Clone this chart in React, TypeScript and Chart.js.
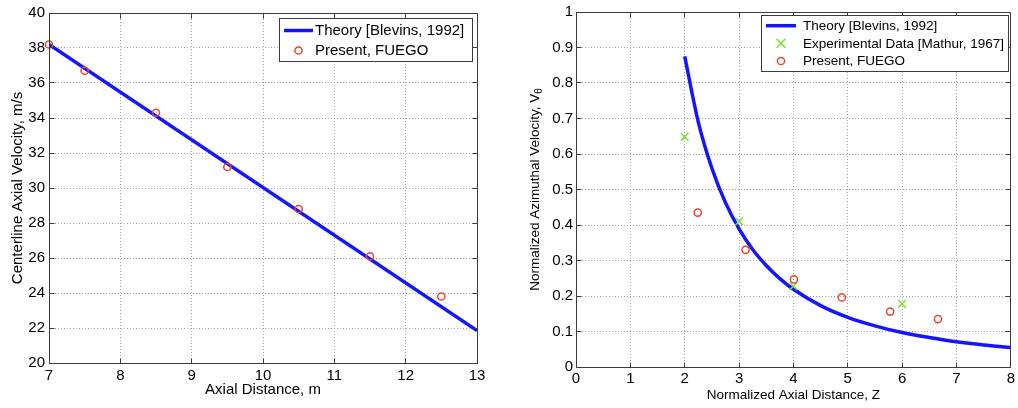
import React, { useEffect, useRef } from 'react';
import { Chart, registerables } from 'chart.js';

Chart.register(...registerables);

const FONT = '"Liberation Sans", Arial, Helvetica, sans-serif';
const BLUE = '#1414ff';
const RED = '#e6472b';
const GREEN = '#7ee03c';
const GRID = '#a8a8a8';
const FRAME = '#3c3c3c';

// ---- Left chart: centerline axial velocity ----
const axialXTicks = [7, 8, 9, 10, 11, 12, 13];
const axialYTicks = [20, 22, 24, 26, 28, 30, 32, 34, 36, 38, 40];
const axialTheoryX = [7, 13];
const axialTheoryY = [38.2, 21.85];
const axialFuegoX = [7, 7.5, 8.5, 9.5, 10.5, 11.5, 12.5];
const axialFuegoY = [38.2, 36.7, 34.3, 31.2, 28.8, 26.1, 23.8];

// ---- Right chart: normalized azimuthal velocity ----
const azXTicks = [0, 1, 2, 3, 4, 5, 6, 7, 8];
const azYTicks = [0, 0.1, 0.2, 0.3, 0.4, 0.5, 0.6, 0.7, 0.8, 0.9, 1];
const azTheoryX = [2, 2.25, 2.5, 2.75, 3, 3.25, 3.5, 3.75, 4, 4.5, 5, 5.5, 6, 6.5, 7, 7.5, 8];
const azTheoryY = [0.875, 0.69, 0.56, 0.463, 0.389, 0.331, 0.286, 0.249, 0.219, 0.173, 0.14, 0.116, 0.097, 0.083, 0.071, 0.062, 0.055];
const azExpX = [2, 3, 4, 6];
const azExpY = [0.648, 0.41, 0.228, 0.178];
const azFuegoX = [2.24, 3.12, 4.01, 4.89, 5.78, 6.66];
const azFuegoY = [0.435, 0.33, 0.247, 0.196, 0.156, 0.135];

const pts = (xs: number[], ys: number[]) => xs.map((x, i) => ({ x, y: ys[i] }));

const align = (p: number) => Math.round(p - 0.5) + 0.5;

type LegendCfg = {
  box: [number, number, number, number];
  rowsY: number[];
  sampleX: [number, number];
  textX: number;
  fontSize: number;
};

function makeFramePlugin(legend: LegendCfg, yTitle?: { text: string; sub: string; x: number; size: number }) {
  return {
    id: 'matlabFrame',
    afterDraw(chart: any) {
      const { ctx, chartArea: a, scales } = chart;
      ctx.save();
      // frame
      const L = align(a.left), R = align(a.right), T = align(a.top), B = align(a.bottom);
      ctx.strokeStyle = FRAME;
      ctx.lineWidth = 1;
      ctx.setLineDash([]);
      ctx.strokeRect(L, T, R - L, B - T);
      // inward ticks
      const tl = 5;
      ctx.beginPath();
      scales.x.ticks.forEach((t: any) => {
        const px = align(scales.x.getPixelForValue(t.value));
        ctx.moveTo(px, B); ctx.lineTo(px, B - tl);
        ctx.moveTo(px, T); ctx.lineTo(px, T + tl);
      });
      scales.y.ticks.forEach((t: any) => {
        const py = align(scales.y.getPixelForValue(t.value));
        ctx.moveTo(L, py); ctx.lineTo(L + tl, py);
        ctx.moveTo(R, py); ctx.lineTo(R - tl, py);
      });
      ctx.stroke();

      // legend
      const [bx1, by1, bx2, by2] = legend.box;
      ctx.fillStyle = '#ffffff';
      ctx.fillRect(bx1, by1, bx2 - bx1, by2 - by1);
      ctx.strokeStyle = FRAME;
      ctx.strokeRect(align(bx1), align(by1), Math.round(bx2 - bx1), Math.round(by2 - by1));
      ctx.font = `${legend.fontSize}px ${FONT}`;
      ctx.textBaseline = 'middle';
      ctx.textAlign = 'left';
      chart.data.datasets.forEach((ds: any, i: number) => {
        const y = legend.rowsY[i];
        const [sx1, sx2] = legend.sampleX;
        const cx = (sx1 + sx2) / 2;
        ctx.strokeStyle = ds.borderColor;
        if (ds.showLine !== false) {
          ctx.lineWidth = ds.borderWidth;
          ctx.beginPath(); ctx.moveTo(sx1, y); ctx.lineTo(sx2, y); ctx.stroke();
        } else if (ds.pointStyle === 'crossRot') {
          const r = ds.pointRadius * 0.8;
          ctx.lineWidth = ds.pointBorderWidth;
          ctx.beginPath();
          ctx.moveTo(cx - r, y - r); ctx.lineTo(cx + r, y + r);
          ctx.moveTo(cx - r, y + r); ctx.lineTo(cx + r, y - r);
          ctx.stroke();
        } else {
          ctx.lineWidth = ds.pointBorderWidth;
          ctx.beginPath(); ctx.arc(cx, y, ds.pointRadius, 0, Math.PI * 2); ctx.stroke();
        }
        ctx.fillStyle = '#000';
        ctx.fillText(ds.label, legend.textX, y + 0.5);
      });

      // custom y title with subscript
      if (yTitle) {
        const cy = (a.top + a.bottom) / 2;
        ctx.translate(yTitle.x, cy);
        ctx.rotate(-Math.PI / 2);
        ctx.fillStyle = '#000';
        ctx.textBaseline = 'middle';
        ctx.font = `${yTitle.size}px ${FONT}`;
        const w1 = ctx.measureText(yTitle.text).width;
        ctx.font = `${yTitle.size * 0.75}px ${FONT}`;
        const w2 = ctx.measureText(yTitle.sub).width;
        const x0 = -(w1 + w2) / 2;
        ctx.font = `${yTitle.size}px ${FONT}`;
        ctx.fillText(yTitle.text, x0, 0);
        ctx.font = `${yTitle.size * 0.75}px ${FONT}`;
        ctx.fillText(yTitle.sub, x0 + w1, 4);
      }
      ctx.restore();
    },
  };
}

function axis(opts: {
  min: number; max: number; ticks: number[]; fit: (s: any) => void; tickSize: number;
  tickPad: number; title?: string; titleSize: number; titlePad: any; fmt?: (v: number) => string;
}) {
  return {
    type: 'linear',
    min: opts.min,
    max: opts.max,
    afterBuildTicks: (s: any) => { s.ticks = opts.ticks.map((v) => ({ value: v })); },
    afterFit: opts.fit,
    grid: { color: GRID, lineWidth: 1, drawTicks: false },
    border: { display: false, dash: [1, 2] },
    ticks: {
      padding: opts.tickPad,
      color: '#000',
      autoSkip: false,
      maxRotation: 0,
      font: { family: FONT, size: opts.tickSize },
      callback: (v: any) => (opts.fmt ? opts.fmt(Number(v)) : String(v)),
    },
    title: {
      display: !!opts.title,
      text: opts.title || '',
      color: '#000',
      font: { family: FONT, size: opts.titleSize },
      padding: opts.titlePad,
    },
  };
}

function leftConfig(): any {
  return {
    type: 'line',
    data: {
      datasets: [
        {
          label: 'Theory [Blevins, 1992]',
          data: pts(axialTheoryX, axialTheoryY),
          borderColor: BLUE, borderWidth: 3.5, pointRadius: 0, fill: false, tension: 0, order: 3,
        },
        {
          label: 'Present, FUEGO',
          data: pts(axialFuegoX, axialFuegoY),
          showLine: false, pointStyle: 'circle', pointRadius: 3.6, pointBorderWidth: 1.5,
          borderColor: RED, pointBorderColor: RED, backgroundColor: 'rgba(0,0,0,0)', pointBackgroundColor: 'rgba(0,0,0,0)',
          clip: false, order: 1,
        },
      ],
    },
    options: {
      responsive: false, animation: false, devicePixelRatio: 1,
      layout: { padding: { top: 13, right: 33, left: 0, bottom: 0 } },
      plugins: { legend: { display: false }, tooltip: { enabled: false } },
      scales: {
        x: axis({ min: 7, max: 13, ticks: axialXTicks, fit: (s) => { s.height = 45; }, tickSize: 15, tickPad: 4,
          title: 'Axial Distance, m', titleSize: 15, titlePad: { top: 0, bottom: 9 } }),
        y: axis({ min: 20, max: 40, ticks: axialYTicks, fit: (s) => { s.width = 49; }, tickSize: 15, tickPad: 4,
          title: 'Centerline Axial Velocity, m/s', titleSize: 15, titlePad: { top: 8.5, bottom: 0 } }),
      },
    },
    plugins: [makeFramePlugin({ box: [279, 18, 472, 61], rowsY: [30.5, 50.5], sampleX: [284, 313], textX: 315, fontSize: 15 })],
  };
}

function rightConfig(): any {
  return {
    type: 'line',
    data: {
      datasets: [
        {
          label: 'Theory [Blevins, 1992]',
          data: pts(azTheoryX, azTheoryY),
          borderColor: BLUE, borderWidth: 3.5, pointRadius: 0, fill: false, cubicInterpolationMode: 'monotone', order: 3,
        },
        {
          label: 'Experimental Data [Mathur, 1967]',
          data: pts(azExpX, azExpY),
          showLine: false, pointStyle: 'crossRot', pointRadius: 5.5, pointBorderWidth: 1.5,
          borderColor: GREEN, pointBorderColor: GREEN, backgroundColor: GREEN, clip: false, order: 2,
        },
        {
          label: 'Present, FUEGO',
          data: pts(azFuegoX, azFuegoY),
          showLine: false, pointStyle: 'circle', pointRadius: 3.6, pointBorderWidth: 1.5,
          borderColor: RED, pointBorderColor: RED, backgroundColor: 'rgba(0,0,0,0)', pointBackgroundColor: 'rgba(0,0,0,0)',
          clip: false, order: 1,
        },
      ],
    },
    options: {
      responsive: false, animation: false, devicePixelRatio: 1,
      layout: { padding: { top: 11, right: 6, left: 0, bottom: 0 } },
      plugins: { legend: { display: false }, tooltip: { enabled: false } },
      scales: {
        x: axis({ min: 0, max: 8, ticks: azXTicks, fit: (s) => { s.height = 41; }, tickSize: 15, tickPad: 3,
          title: 'Normalized Axial Distance, Z', titleSize: 13.5, titlePad: { top: 0, bottom: 5 } }),
        y: axis({ min: 0, max: 1, ticks: azYTicks, fit: (s) => { s.width = 66; }, tickSize: 15, tickPad: 3,
          titleSize: 13.5, titlePad: 0, fmt: (v) => String(Math.round(v * 10) / 10) }),
      },
    },
    plugins: [makeFramePlugin(
      { box: [251, 15, 498, 71], rowsY: [25.7, 43.3, 61], sampleX: [256, 286], textX: 293, fontSize: 13.5 },
      { text: 'Normalized Azimuthal Velocity, V', sub: 'θ', x: 25, size: 13.5 },
    )],
  };
}

function PlotCanvas({ left, width, height, make }: { left: number; width: number; height: number; make: () => any }) {
  const ref = useRef<HTMLCanvasElement>(null);
  useEffect(() => {
    const chart = new Chart(ref.current as HTMLCanvasElement, make());
    return () => chart.destroy();
  }, []);
  return (
    <canvas
      ref={ref}
      width={width}
      height={height}
      style={{ position: 'absolute', left, top: 0, width, height }}
    />
  );
}

export default function App() {
  return (
    <div style={{ position: 'absolute', left: 0, top: 0, width: 1018, height: 408, background: '#fff' }}>
      <PlotCanvas left={0} width={510} height={408} make={leftConfig} />
      <PlotCanvas left={510} width={508} height={408} make={rightConfig} />
    </div>
  );
}
